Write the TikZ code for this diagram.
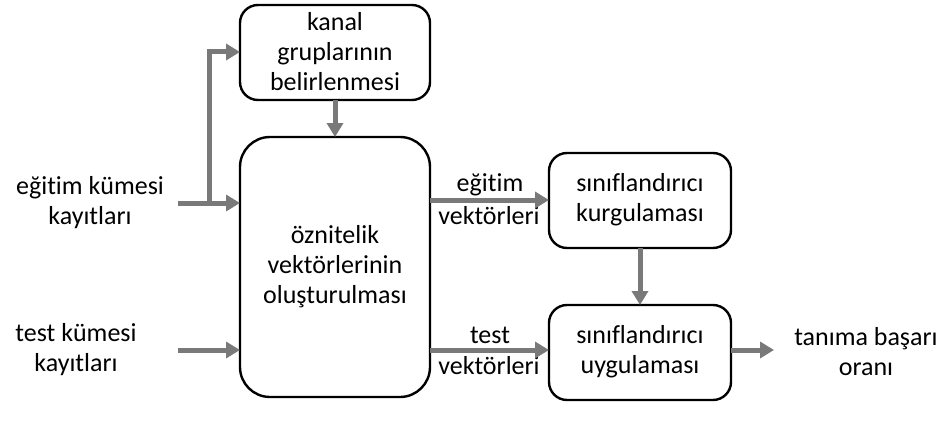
\documentclass[tikz,border=0pt]{standalone}
\usepackage{fontspec}
\setmainfont{Carlito}[Ligatures={NoCommon}]
\usetikzlibrary{arrows.meta}
\begin{document}
\begin{tikzpicture}[x=1pt,y=-1pt,
  box/.style={draw=black,line width=2.4pt,rounded corners=#1,inner sep=0pt},
  box/.default=18pt,
  flow/.style={draw=gray!95!black,line width=5pt,-{Triangle[length=14pt,width=16pt]}},
  lbl/.style={align=center,font=\fontsize{26}{30}\selectfont,inner sep=0pt}]
\useasboundingbox (0,0) rectangle (942,428);
% boxes
\draw[box] (240,5) rectangle (430,100);
\node[lbl] (kanal) at (335,52) {kanal\\gruplarının\\belirlenmesi};
\coordinate (kanalW) at (240,52);
\coordinate (kanalS) at (335,100);
\draw[box=30pt] (240,137) rectangle (430,397);
\node[lbl] (oz) at (335,267) {öznitelik\\vektörlerinin\\oluşturulması};
\coordinate (ozN) at (335,137);
\coordinate (ozW1) at (240,203);
\coordinate (ozW2) at (240,350);
\coordinate (ozE1) at (430,200);
\coordinate (ozE2) at (430,350);
\draw[box] (549,153) rectangle (731,248);
\node[lbl] (kurg) at (640,200) {sınıflandırıcı\\kurgulaması};
\coordinate (kurgW) at (549,200);
\coordinate (kurgS) at (640,248);
\draw[box] (549,305) rectangle (731,400);
\node[lbl] (uyg) at (640,352) {sınıflandırıcı\\uygulaması};
\coordinate (uygW) at (549,350);
\coordinate (uygN) at (640,305);
\coordinate (uygE) at (731,350);
% texts
\node[lbl] (egk) at (90,203) {eğitim kümesi\\kayıtları};
\node[lbl] (tk) at (76,350) {test kümesi\\kayıtları};
\node[lbl] (ev1) at (490,185) {eğitim};
\node[lbl] (ev2) at (489,216) {vektörleri};
\node[lbl] (tv1) at (490,335) {test};
\node[lbl] (tv2) at (489,366) {vektörleri};
\node[lbl] (out) at (866,352) {tanıma başarı\\oranı};
% connectors
\coordinate (in1) at (178,203);
\coordinate (in2) at (178,350);
\coordinate (br) at (209,203);
\coordinate (outE) at (774,350);
\draw[flow] (in1) -- (ozW1);
\draw[flow] (br) |- (kanalW);
\draw[flow] (in2) -- (ozW2);
\draw[flow] (kanalS) -- (ozN);
\draw[flow] (ozE1) -- (kurgW);
\draw[flow] (ozE2) -- (uygW);
\draw[flow] (kurgS) -- (uygN);
\draw[flow] (uygE) -- (outE);
\end{tikzpicture}
\end{document}
